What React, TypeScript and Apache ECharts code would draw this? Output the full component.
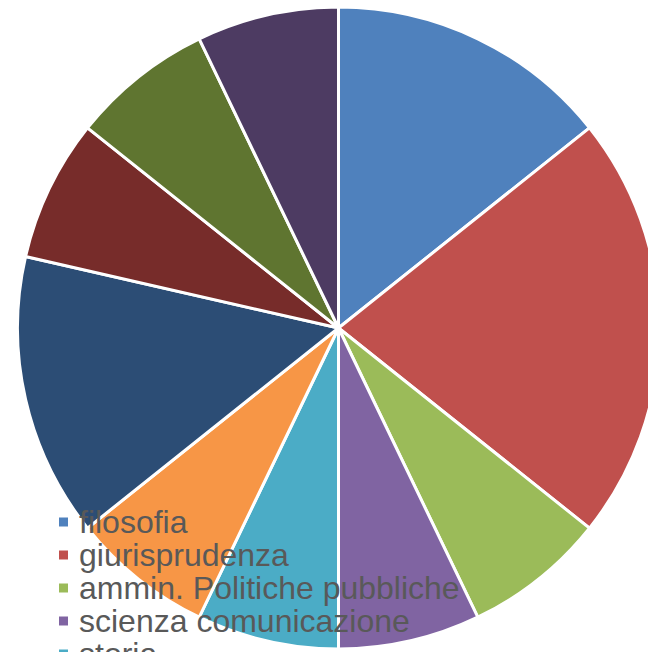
import React, { useEffect, useRef } from "react";
import * as echarts from "echarts";

const categories = [
  "filosofia",
  "giurisprudenza",
  "ammin. Politiche pubbliche",
  "scienza comunicazione",
  "storia",
  "lettere",
  "lingue",
  "economia",
  "sociologia",
  "psicologia",
];
const values = [2, 3, 1, 1, 1, 1, 2, 1, 1, 1];
const colors = [
  "#4F81BD",
  "#C0504D",
  "#9BBB59",
  "#8064A2",
  "#4BACC6",
  "#F79646",
  "#2C4D75",
  "#772C2A",
  "#5F7530",
  "#4D3B62",
];

export default function App() {
  const ref = useRef<HTMLDivElement>(null);
  useEffect(() => {
    if (!ref.current) return;
    const chart = echarts.init(ref.current, undefined, { renderer: "svg" });
    chart.setOption({
      animation: false,
      color: colors,
      legend: {
        orient: "vertical",
        left: 57,
        top: 506,
        height: 900,
        padding: 0,
        itemGap: 1,
        itemWidth: 11,
        itemHeight: 11,
        icon: "rect",
        selectedMode: false,
        data: categories,
        textStyle: {
          fontFamily: "Liberation Sans",
          fontSize: 32,
          color: "#595959",
          padding: [0, 0, 0, 5],
        },
      },
      series: [
        {
          type: "pie",
          center: [338.5, 328],
          radius: 321,
          startAngle: 90,
          clockwise: true,
          label: { show: false },
          labelLine: { show: false },
          emphasis: { disabled: true },
          itemStyle: { borderColor: "#FFFFFF", borderWidth: 3 },
          data: categories.map((c, i) => ({ name: c, value: values[i] })),
        },
      ],
    });
    return () => chart.dispose();
  }, []);
  return (
    <div
      ref={ref}
      style={{ position: "absolute", left: 0, top: 0, width: 648, height: 652 }}
    />
  );
}
